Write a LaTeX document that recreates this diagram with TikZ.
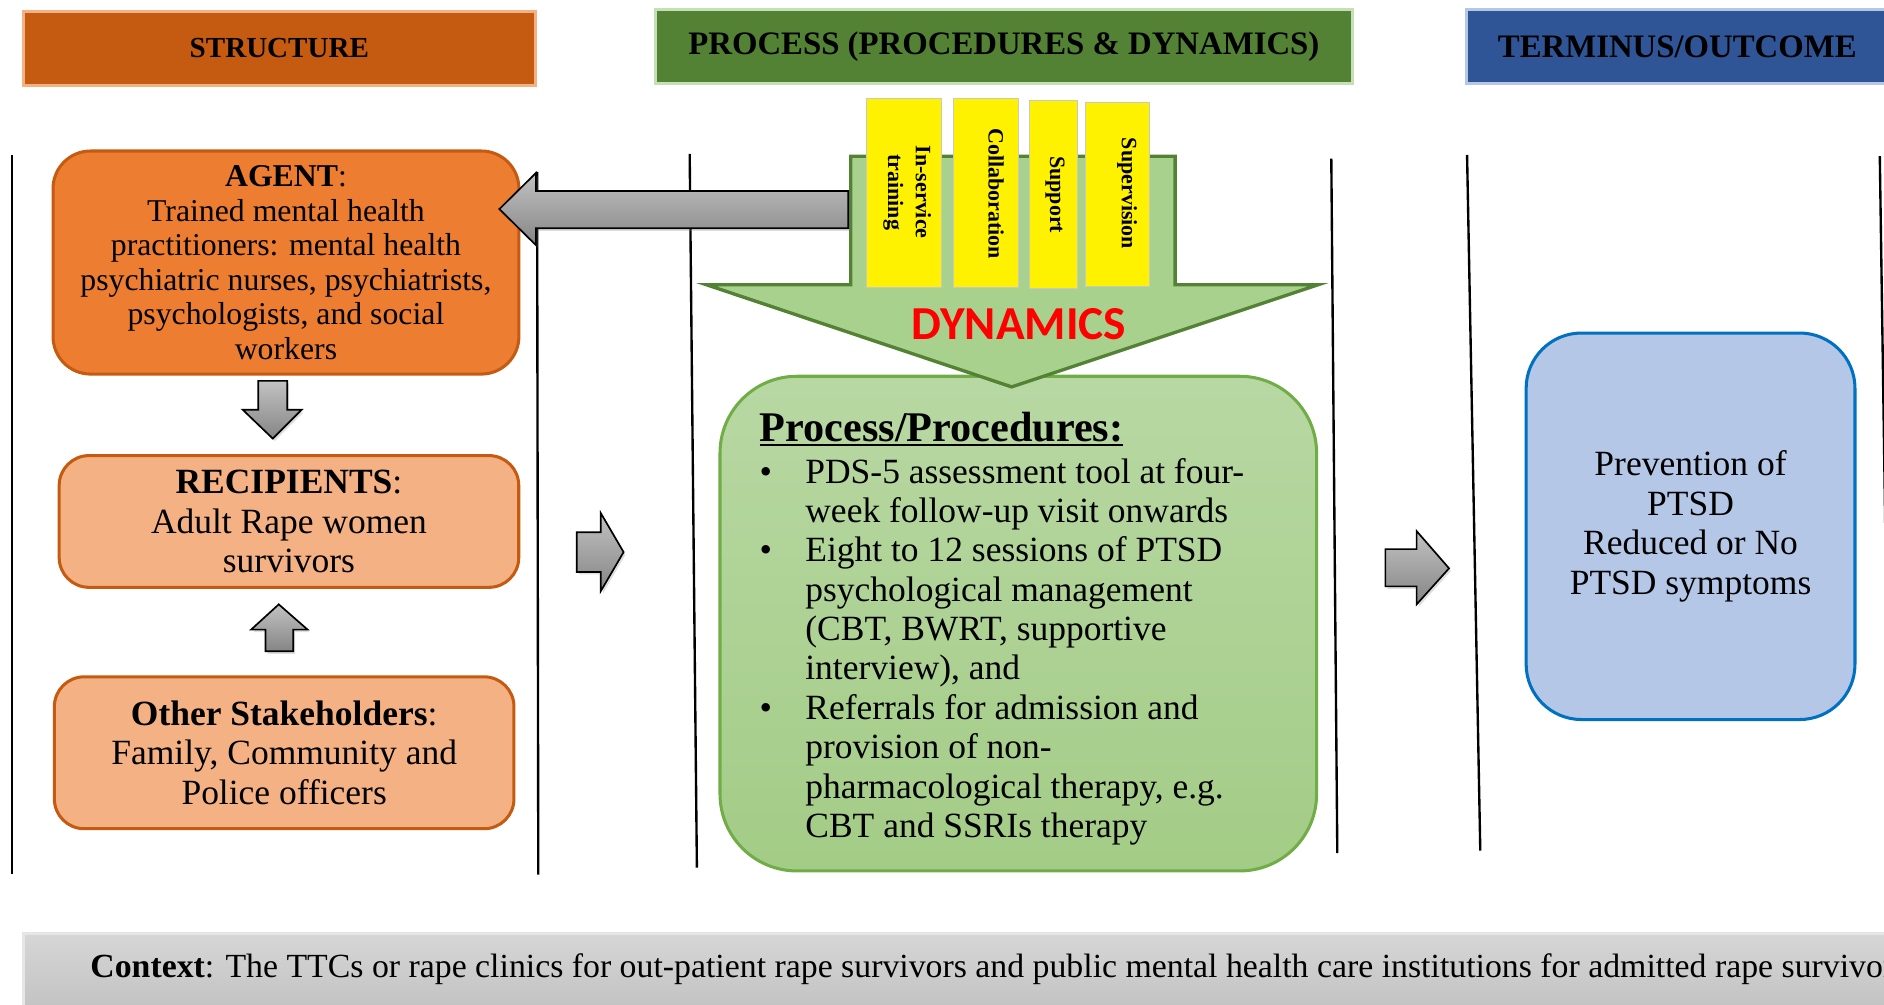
\documentclass[tikz,border=0pt]{standalone}
\usepackage{fontspec}
\setmainfont{Liberation Serif}
\newfontfamily\dynfont{Carlito}
\usetikzlibrary{shadows}
\definecolor{strfill}{HTML}{C55A11}
\definecolor{strbord}{HTML}{F4B183}
\definecolor{prhfill}{HTML}{548235}
\definecolor{prhbord}{HTML}{C5E0B4}
\definecolor{termfill}{HTML}{2F5597}
\definecolor{termbord}{HTML}{B4C7E7}
\definecolor{agentfill}{HTML}{ED7D31}
\definecolor{orbord}{HTML}{C55A11}
\definecolor{lightor}{HTML}{F4B183}
\definecolor{dynfill}{HTML}{A9D18E}
\definecolor{dynbord}{HTML}{548235}
\definecolor{pptop}{HTML}{B8D8A3}
\definecolor{ppbot}{HTML}{A3CC86}
\definecolor{ppbord}{HTML}{70AD47}
\definecolor{outfill}{HTML}{B4C7E7}
\definecolor{outbord}{HTML}{0070C0}
\definecolor{ctxtop}{HTML}{D6D6D6}
\definecolor{ctxbot}{HTML}{BDBDBD}
\definecolor{ctxbord}{HTML}{E6E6E6}
\definecolor{arrtop}{HTML}{C2C2C2}
\definecolor{arrbot}{HTML}{858585}
\definecolor{ybord}{HTML}{C8C8C8}
\newcommand{\myul}[1]{\setbox0\hbox{#1}\rlap{\rule[-2.8pt]{\wd0}{1.2pt}}\box0}
\begin{document}
\begin{tikzpicture}[x=0.025cm,y=-0.025cm,
  hdr/.style={rectangle, line width=1.8pt, inner sep=0pt, minimum height=1.54cm, text=black},
  vline/.style={line width=1.4pt, black},
  obox/.style={rectangle, rounded corners=0.62cm, line width=1.8pt, draw=orbord, fill=lightor, inner sep=0pt, align=center},
  bodyfont/.style={font=\fontsize{21}{23.5}\selectfont},
  ybar/.style={rectangle, fill=yellow, draw=ybord, line width=0.5pt, inner sep=0pt},
  ytext/.style={rotate=-90, font=\bfseries\fontsize{13}{16.5}\selectfont, align=center, inner sep=0pt},
  grayarrow/.style={draw=black, line width=1pt, top color=arrtop, bottom color=arrbot, line join=miter,
    drop shadow={opacity=0.25, shadow xshift=1.2pt, shadow yshift=-1.5pt}}
]
\useasboundingbox (0,0) rectangle (1568,836);
\clip (0,0) rectangle (1568,836);

% divider lines
\draw[vline] (10,129) -- (10,727);
\draw[vline] (447,143) -- (448,728);
\draw[vline] (574,128) -- (580,722);
\draw[vline] (1108,132) -- (1113,710);
\draw[vline] (1221,129) -- (1232,708);
\draw[vline] (1564.5,130) -- (1573,710);

% headers
\node[hdr, draw=strbord, fill=strfill, minimum width=10.66cm, font=\bfseries\fontsize{17.2}{20}\selectfont] (hstruct) at (232.5,40) {STRUCTURE};
\node[hdr, draw=prhbord, fill=prhfill, minimum width=14.51cm, font=\bfseries\fontsize{19.4}{22}\selectfont] (hproc) at (835.5,38.5) {PROCESS (PROCEDURES \& DYNAMICS)};
\node[hdr, draw=termbord, fill=termfill, minimum width=8.79cm, font=\bfseries\fontsize{19.4}{22}\selectfont] (hterm) at (1396,39) {TERMINUS/OUTCOME};

% structure column
\node[obox, rounded corners=0.78cm, fill=agentfill, minimum width=9.69cm, minimum height=4.64cm,
      font=\fontsize{18.8}{20.4}\selectfont] (agent) at (238,218.5)
 {\textbf{AGENT}:\\Trained mental health\\practitioners: mental health\\psychiatric nurses, psychiatrists,\\psychologists, and social\\workers};
\node[obox, minimum width=9.56cm, minimum height=2.74cm, bodyfont] (recip) at (240.5,434)
 {\textbf{RECIPIENTS}:\\Adult Rape women\\survivors};
\node[obox, minimum width=9.56cm, minimum height=3.16cm, bodyfont] (other) at (236.5,626.5)
 {\textbf{Other Stakeholders}:\\Family, Community and\\Police officers};

% process box
\node[rectangle, rounded corners=1.6cm, draw=ppbord, line width=1.8pt, top color=pptop, bottom color=ppbot,
      minimum width=12.41cm, minimum height=10.29cm, inner sep=0pt] (proc) at (847.5,519) {};
\node[anchor=base west, inner sep=0pt, font=\fontsize{21}{23.3}\selectfont] (procbody) at (632,367.6)
 {\begin{tabular}[t]{@{}p{0.95cm}@{}l@{}}
  \multicolumn{2}{@{}l@{}}{\fontsize{25}{27}\selectfont\bfseries\myul{Process/Procedures:}}\\[1.2pt]
  \textbullet & PDS-5 assessment tool at four-\\
  & week follow-up visit onwards\\
  \textbullet & Eight to 12 sessions of PTSD\\
  & psychological management\\
  & (CBT, BWRT, supportive\\
  & interview), and\\
  \textbullet & Referrals for admission and\\
  & provision of non-\\
  & pharmacological therapy, e.g.\\
  & CBT and SSRIs therapy
 \end{tabular}};

% dynamics arrow
\draw[fill=dynfill, draw=dynbord, line width=2pt, line join=miter]
  (708,130) -- (978,130) -- (978,237) -- (1097,237) -- (842,322) -- (588,237) -- (708,237) -- cycle;
\node[font=\dynfont\bfseries\fontsize{28}{30}\selectfont, text=red, inner sep=0pt] (dyn) at (848,270) {DYNAMICS};

% yellow bars
\node[ybar, minimum width=1.565cm, minimum height=3.925cm] (b1) at (752.3,160.5) {};
\node[ybar, minimum width=1.34cm, minimum height=3.94cm] (b2) at (820.5,160.75) {};
\node[ybar, minimum width=0.99cm, minimum height=3.9cm] (b3) at (876.75,162) {};
\node[ybar, minimum width=1.35cm, minimum height=3.81cm] (b4) at (930,161.75) {};
\node[ytext] (t1) at (755,160) {In-service\\training};
\node[ytext] (t2) at (829,161) {Collaboration};
\node[ytext] (t3) at (878,162) {Support};
\node[ytext] (t4) at (938,161) {Supervision};

% outcome
\node[rectangle, rounded corners=1.15cm, draw=outbord, fill=outfill, line width=1.8pt, inner sep=0pt,
      minimum width=6.84cm, minimum height=8.04cm, align=center, bodyfont] (outc) at (1407,438)
 {Prevention of\\PTSD\\Reduced or No\\PTSD symptoms};

% gray block arrows
\draw[grayarrow] (415.6,174) -- (446,144) -- (446,159) -- (706,159) -- (706,190) -- (446,190) -- (446,204) -- cycle;
\draw[grayarrow] (215,317) -- (239,317) -- (239,341) -- (251,341) -- (227,365) -- (202,341) -- (215,341) -- cycle;
\draw[grayarrow] (232,503) -- (256,524) -- (244,524) -- (244,542) -- (221,542) -- (221,524) -- (209,524) -- cycle;
\draw[grayarrow] (480,443) -- (500,443) -- (500,427) -- (519,459.5) -- (500,492) -- (500,476) -- (480,476) -- cycle;
\draw[grayarrow] (1153,457) -- (1179,457) -- (1179,442) -- (1206,473) -- (1179,503) -- (1179,488) -- (1153,488) -- cycle;

% context bar
\node[rectangle, anchor=north west, draw=ctxbord, line width=1.8pt, top color=ctxtop, bottom color=ctxbot,
      minimum width=40.5cm, minimum height=2cm, inner sep=0pt] (ctx) at (18,776) {};
\node[anchor=west, inner sep=0pt, font=\fontsize{20}{23}\selectfont] (ctxtext) at (75,807)
 {\textbf{Context}: The TTCs or rape clinics for out-patient rape survivors and public mental health care institutions for admitted rape survivors};
\end{tikzpicture}
\end{document}
